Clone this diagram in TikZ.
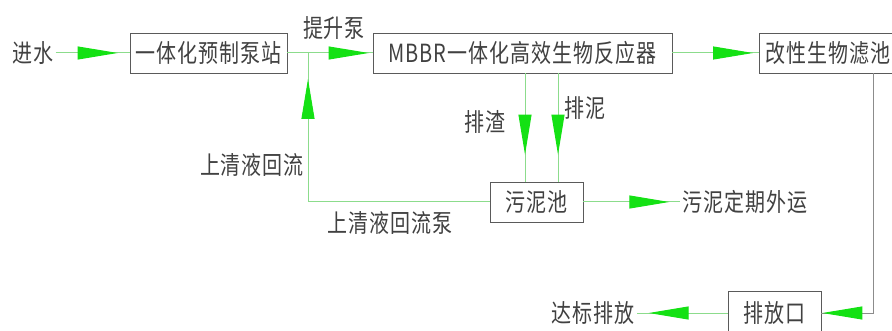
\documentclass[tikz,border=0pt]{standalone}
\usepackage{fontspec}
\usetikzlibrary{arrows.meta,decorations.markings}
\newfontfamily\cjk[FakeStretch=0.8,LetterSpace=4]{Noto Sans CJK SC}
\definecolor{lineg}{RGB}{140,220,140}
\definecolor{headg}{RGB}{20,225,20}
\definecolor{boxc}{RGB}{90,90,90}
\definecolor{txt}{RGB}{65,65,65}
\definecolor{grayl}{RGB}{140,140,140}
\begin{document}
\begin{tikzpicture}[x=1pt,y=-1pt,
  every node/.style={font=\cjk\fontsize{25}{28}\selectfont, text=txt, inner sep=2pt},
  box/.style={draw=boxc, line width=0.8pt, minimum height=40pt, inner sep=0pt},
  arrowmark/.style={postaction={decorate}, decoration={markings, mark=at position #1 with {\arrow{Triangle[length=40pt,width=13pt,color=headg]}}}},
  flow/.style={draw=lineg, line width=1pt, arrowmark=#1},
  grayflow/.style={draw=grayl, line width=1pt, arrowmark=#1}
]
\useasboundingbox (0,0) rectangle (892,331);
\fill[white] (0,0) rectangle (892,331);
% nodes
\node (inw) at (33,53) {进水};
\node[box, minimum width=157pt] (b1) at (208.5,53) {一体化预制泵站};
\node (lift) at (334,28) {提升泵};
\node[box, minimum width=299pt] (b2) at (522.5,53) {MBBR一体化高效生物反应器};
\node[box, anchor=west, inner xsep=6pt, text width=138pt, align=left] (b3) at (759,53) {改性生物滤池};
\node[box, minimum width=93pt] (sl) at (536.5,202) {污泥池};
\node (out) at (745,202) {污泥定期外运};
\node[box, minimum width=93pt, minimum height=44pt] (dis) at (774.5,313) {排放口};
\node (std) at (593,313) {达标排放};
\node (up1) at (252,165) {上清液回流};
\node (up2) at (390,223) {上清液回流泵};
\node (pz) at (485,122) {排渣};
\node (pn) at (585,108) {排泥};
% coordinates
\coordinate (j) at (308,53);
\coordinate (k) at (308,202);
\coordinate (c1) at (873,313);
\coordinate (xa) at (525,0);
\coordinate (xb) at (558,0);
% connectors
\draw[flow=-12pt] (inw.east) -- (b1.west);
\draw[flow=-4pt] (b1.east) -- (b2.west);
\draw[flow=-6pt] (b2.east) -- (b3.west);
\draw[flow=-26pt] (sl.west) -- (k) -- (j);
\draw[flow=-27pt] (xa |- b2.south) -- (xa |- sl.north);
\draw[flow=-27pt] (xb |- b2.south) -- (xb |- sl.north);
\draw[flow=-11pt] (sl.east) -- (out.west);
\draw[grayflow=-1pt] (b3.south -| c1) -- (c1) -- (dis.east);
\draw[flow=-12pt] (dis.west) -- (std.east);
\end{tikzpicture}
\end{document}
